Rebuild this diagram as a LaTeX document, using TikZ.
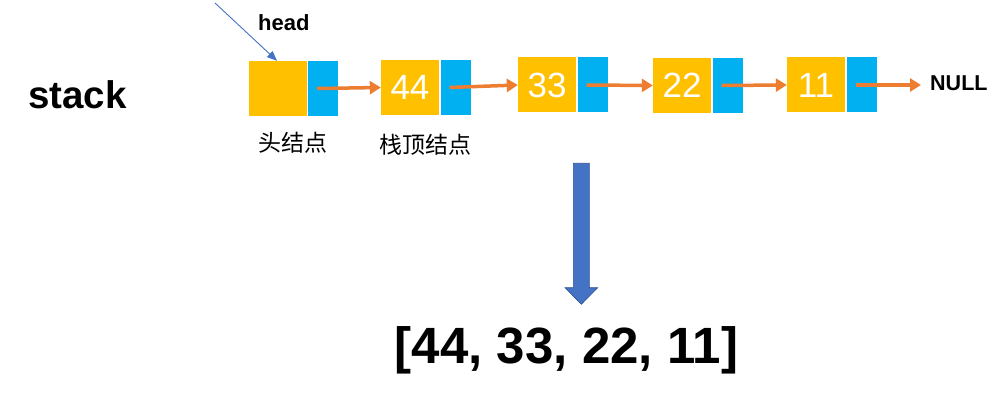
\documentclass[tikz,border=0pt]{standalone}
\usepackage{fontspec}
\setmainfont{Liberation Sans}
\newfontfamily\cjk{Noto Sans CJK SC}
\usetikzlibrary{arrows.meta}
\definecolor{cyel}{HTML}{FFC000}
\definecolor{cblu}{HTML}{00B0F0}
\definecolor{corg}{HTML}{ED7D31}
\definecolor{carw}{HTML}{4472C4}
\definecolor{carwd}{HTML}{2F528F}
\tikzset{
  datbox/.style={fill=cyel, draw=none, minimum width=58pt, minimum height=55pt, inner sep=0pt,
     text=white, font=\fontsize{35}{35}\selectfont},
  ptrbox/.style={fill=cblu, draw=none, minimum width=30pt, minimum height=55pt, inner sep=0pt},
  link/.style={draw=corg, line width=3.5pt, -{Triangle[length=11pt,width=13pt]}},
  cnlabel/.style={font=\cjk\fontsize{23}{23}\selectfont, inner sep=0pt},
}
\begin{document}
\begin{tikzpicture}[x=1pt,y=-1pt]
\useasboundingbox (0,0) rectangle (1004,406);
% nodes
\node[datbox] (y0) at (277.5,88.5) {};
\node[ptrbox] (b0) at (323,88.5) {};
\node[datbox] (y1) at (410,87.5) {44};
\node[ptrbox] (b1) at (455.5,87.5) {};
\node[datbox] (y2) at (547,85) {33};
\node[ptrbox] (b2) at (592.5,85) {};
\node[datbox] (y3) at (682,85.5) {22};
\node[ptrbox] (b3) at (727.5,85.5) {};
\node[datbox] (y4) at (816,85) {11};
\node[ptrbox] (b4) at (861.5,85) {};
\node[anchor=base west, font=\bfseries\fontsize{21.5}{21.5}\selectfont, inner sep=0pt] (null) at (930,91) {NULL};
\coordinate (nullend) at ([xshift=-9pt]null.west |- b4.center);
% links
\draw[link] ([xshift=-6pt]b0.center) -- (y1.west);
\draw[link] ([xshift=-6pt]b1.center) -- (y2.west);
\draw[link] ([xshift=-6pt]b2.center) -- (y3.west);
\draw[link] ([xshift=-6pt]b3.center) -- (y4.west);
\draw[link] ([xshift=-6pt]b4.center) -- (nullend);
% head
\node[anchor=base west, font=\bfseries\fontsize{22}{22}\selectfont, inner sep=0pt] (headlbl) at (258,30.7) {head};
\coordinate (hstart) at (215,3);
\draw[carw, line width=0.9pt, -{Triangle[length=10pt,width=8pt]}] (hstart) -- ([xshift=-0.5pt]y0.north);
% labels
\node[cnlabel] (l0) at (293,143) {头结点};
\node[cnlabel] (l1) at (425.7,145) {栈顶结点};
\node[anchor=base west, font=\bfseries\fontsize{38.5}{38.5}\selectfont, inner sep=0pt] (stk) at (28,108.3) {stack};
% big arrow
\draw[fill=carw, draw=carwd, line width=0.6pt]
  (573.3,163.3) -- (589.3,163.3) -- (589.3,287.7) -- (597.7,287.7) -- (581.3,304.3)
  -- (565,287.7) -- (573.3,287.7) -- cycle;
\node[anchor=base, font=\bfseries\fontsize{51}{51}\selectfont, inner sep=0pt] (res) at (566.5,363.3) {[44, 33, 22, 11]};
\end{tikzpicture}
\end{document}
